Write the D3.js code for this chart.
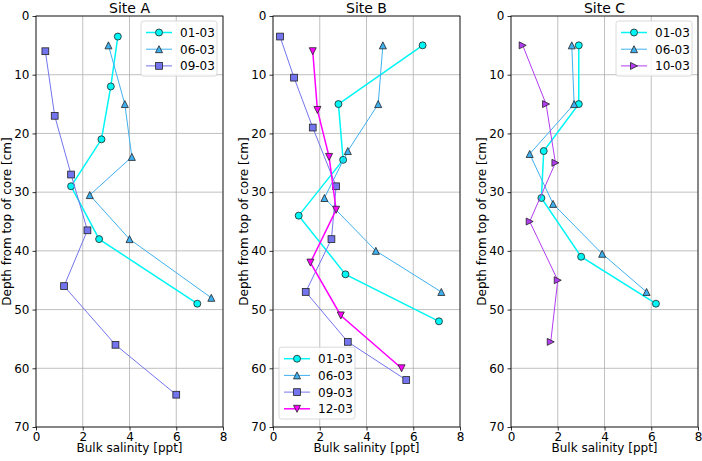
<!DOCTYPE html>
<html>
<head>
<meta charset="utf-8">
<script src="https://cdn.jsdelivr.net/npm/d3@7"></script>
<style>
  body { margin: 0; background: #fff; }
  text { font-family: "DejaVu Sans", sans-serif; fill: #000; }
</style>
</head>
<body>
<svg id="chart" width="702" height="461"></svg>
<script>
var width = 702;
var height = 461;

// tick values
var xTicks = [0, 2, 4, 6, 8];
var yTicks = [0, 10, 20, 30, 40, 50, 60, 70];

// Site A
var aDepth0103 = [3.5, 12, 21, 29, 38, 49];
var aSal0103 = [3.5, 3.2, 2.8, 1.5, 2.7, 6.9];
var aDepth0603 = [5, 15, 24, 30.5, 38, 48];
var aSal0603 = [3.1, 3.8, 4.1, 2.3, 4.0, 7.5];
var aDepth0903 = [6, 17, 27, 36.5, 46, 56, 64.5];
var aSal0903 = [0.4, 0.8, 1.5, 2.2, 1.2, 3.4, 6.0];

// Site B
var bDepth0103 = [5, 15, 24.5, 34, 44, 52];
var bSal0103 = [6.4, 2.8, 3.0, 1.1, 3.1, 7.1];
var bDepth0603 = [5, 15, 23, 31, 40, 47];
var bSal0603 = [4.7, 4.5, 3.2, 2.2, 4.4, 7.2];
var bDepth0903 = [3.5, 10.5, 19, 29, 38, 47, 55.5, 62];
var bSal0903 = [0.3, 0.9, 1.7, 2.7, 2.5, 1.4, 3.2, 5.7];
var bDepth1203 = [6, 16, 24, 33, 42, 51, 60];
var bSal1203 = [1.7, 1.9, 2.4, 2.7, 1.6, 2.9, 5.5];

// Site C
var cDepth0103 = [5, 15, 23, 31, 41, 49];
var cSal0103 = [2.9, 2.9, 1.4, 1.3, 3.0, 6.2];
var cDepth0603 = [5, 15, 23.5, 32, 40.5, 47];
var cSal0603 = [2.6, 2.7, 0.8, 1.8, 3.9, 5.8];
var cDepth1003 = [5, 15, 25, 35, 45, 55.5];
var cSal1003 = [0.5, 1.5, 1.9, 0.8, 2.0, 1.7];

// series styles
var styles = {
  '01-03': { color: '#00f5f5', marker: 'circle', lw: 1.5 },
  '06-03': { color: '#3fb0f0', marker: 'up', lw: 1 },
  '09-03': { color: '#7474ee', marker: 'square', lw: 1 },
  '12-03': { color: '#ff00ff', marker: 'down', lw: 1.5 },
  '10-03': { color: '#b23cf2', marker: 'right', lw: 1 }
};

function zipSeries(sal, depth) {
  return sal.map(function(s, i) { return { x: s, y: depth[i] }; });
}

var panels = [
  { title: 'Site A', left: 36, legend: 'top', series: [
    { name: '01-03', data: zipSeries(aSal0103, aDepth0103) },
    { name: '06-03', data: zipSeries(aSal0603, aDepth0603) },
    { name: '09-03', data: zipSeries(aSal0903, aDepth0903) } ] },
  { title: 'Site B', left: 273, legend: 'bottom', series: [
    { name: '01-03', data: zipSeries(bSal0103, bDepth0103) },
    { name: '06-03', data: zipSeries(bSal0603, bDepth0603) },
    { name: '09-03', data: zipSeries(bSal0903, bDepth0903) },
    { name: '12-03', data: zipSeries(bSal1203, bDepth1203) } ] },
  { title: 'Site C', left: 511, legend: 'top', series: [
    { name: '01-03', data: zipSeries(cSal0103, cDepth0103) },
    { name: '06-03', data: zipSeries(cSal0603, cDepth0603) },
    { name: '10-03', data: zipSeries(cSal1003, cDepth1003) } ] }
];

var plotW = 187;
var plotTop = 16;
var plotH = 411;

var svg = d3.select('#chart');

function drawMarker(g, type, x, y, color) {
  var m;
  if (type === 'circle') {
    m = g.append('circle').attr('cx', x).attr('cy', y).attr('r', 3.5);
  } else if (type === 'square') {
    m = g.append('rect').attr('x', x - 3.4).attr('y', y - 3.4)
      .attr('width', 6.8).attr('height', 6.8);
  } else {
    var rot = { up: 0, down: 180, right: 90 }[type];
    var p = 'M0,-3.5L3.5,3.5L-3.5,3.5Z';
    m = g.append('path').attr('d', p)
      .attr('transform', 'translate(' + x + ',' + y + ') rotate(' + rot + ')');
  }
  m.attr('fill', color).attr('stroke', '#222').attr('stroke-width', 0.8);
}

panels.forEach(function(panel) {
  var xScale = d3.scaleLinear().domain([0, 8]).range([0, plotW]);
  var yScale = d3.scaleLinear().domain([0, 70]).range([0, plotH]);

  var graph = svg.append('g')
    .attr('transform', 'translate(' + panel.left + ',' + plotTop + ')');

  // grid
  graph.append('g').selectAll('line').data(xTicks).enter().append('line')
    .attr('x1', function(d) { return xScale(d); })
    .attr('x2', function(d) { return xScale(d); })
    .attr('y1', 0).attr('y2', plotH)
    .attr('stroke', '#b0b0b0').attr('stroke-width', 0.8);
  graph.append('g').selectAll('line').data(yTicks).enter().append('line')
    .attr('y1', function(d) { return yScale(d); })
    .attr('y2', function(d) { return yScale(d); })
    .attr('x1', 0).attr('x2', plotW)
    .attr('stroke', '#b0b0b0').attr('stroke-width', 0.8);

  // axes
  var xAxis = graph.append('g')
    .attr('transform', 'translate(0,' + plotH + ')')
    .call(d3.axisBottom(xScale).tickValues(xTicks).tickSize(3.5).tickPadding(2));
  var yAxis = graph.append('g')
    .call(d3.axisLeft(yScale).tickValues(yTicks).tickSize(3.5).tickPadding(3));
  [xAxis, yAxis].forEach(function(ax) {
    ax.select('.domain').remove();
    ax.selectAll('text').attr('font-size', 12).attr('font-family', 'DejaVu Sans').attr('fill', '#000');
    ax.selectAll('line').attr('stroke', '#000').attr('stroke-width', 0.8);
  });

  // lines and markers
  var lineGen = d3.line()
    .x(function(d) { return xScale(d.x); })
    .y(function(d) { return yScale(d.y); });

  panel.series.forEach(function(s) {
    var st = styles[s.name];
    graph.append('path')
      .datum(s.data)
      .attr('fill', 'none')
      .attr('stroke', st.color)
      .attr('stroke-width', st.lw)
      .attr('d', lineGen);
    var mg = graph.append('g');
    s.data.forEach(function(d) {
      drawMarker(mg, st.marker, xScale(d.x), yScale(d.y), st.color);
    });
  });

  // spines
  graph.append('rect')
    .attr('width', plotW).attr('height', plotH)
    .attr('fill', 'none').attr('stroke', '#000').attr('stroke-width', 0.8);

  // title and labels
  graph.append('text')
    .attr('x', plotW / 2).attr('y', -3)
    .attr('text-anchor', 'middle').attr('font-size', 14)
    .text(panel.title);
  graph.append('text')
    .attr('x', plotW / 2).attr('y', plotH + 25)
    .attr('text-anchor', 'middle').attr('font-size', 12)
    .text('Bulk salinity [ppt]');
  graph.append('text')
    .attr('transform', 'translate(' + (-25) + ',' + (plotH / 2) + ') rotate(-90)')
    .attr('text-anchor', 'middle').attr('font-size', 12)
    .text('Depth from top of core [cm]');

  // legend
  var n = panel.series.length;
  var legW = 76, legH = n * 16.7 + 5;
  var lx, ly;
  if (panel.legend === 'top') {
    lx = plotW - 6 - legW; ly = 5;
  } else {
    lx = 6; ly = plotH - 8 - legH;
  }
  var leg = graph.append('g').attr('transform', 'translate(' + lx + ',' + ly + ')');
  leg.append('rect')
    .attr('width', legW).attr('height', legH)
    .attr('rx', 2.5)
    .attr('fill', 'rgba(255,255,255,0.85)')
    .attr('stroke', '#d0d0d0').attr('stroke-width', 0.8);
  panel.series.forEach(function(s, i) {
    var st = styles[s.name];
    var yy = 11.5 + i * 16.7;
    leg.append('line')
      .attr('x1', 5).attr('x2', 31).attr('y1', yy).attr('y2', yy)
      .attr('stroke', st.color).attr('stroke-width', st.lw);
    drawMarker(leg, st.marker, 18, yy, st.color);
    leg.append('text')
      .attr('x', 39).attr('y', yy + 4.5)
      .attr('font-size', 12)
      .text(s.name);
  });
});
</script>
</body>
</html>
